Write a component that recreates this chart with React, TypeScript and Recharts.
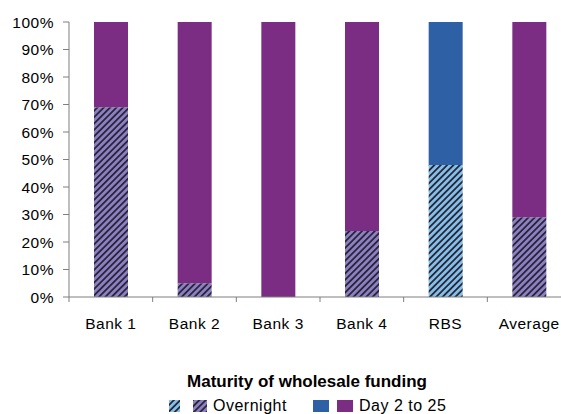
import React from "react";
import { BarChart, Bar, XAxis, YAxis, Cell } from "recharts";

const categories = ["Bank 1", "Bank 2", "Bank 3", "Bank 4", "RBS", "Average"];
const overnight = [69, 5, 0, 24, 48, 29];
const day2to25 = [31, 95, 100, 76, 52, 71];
const yTicks = [0, 10, 20, 30, 40, 50, 60, 70, 80, 90, 100];
const highlight = "RBS";

const title = "Maturity of wholesale funding";
const legendOvernight = "Overnight";
const legendDay = "Day 2 to 25";

const data = categories.map((name, i) => ({
  name,
  overnight: overnight[i],
  day: day2to25[i],
}));

const PURPLE = "#7A2D82";
const BLUE = "#2E60A6";
const LAVENDER = "#8C80C2";
const LIGHTBLUE = "#82C0E9";
const STRIPE = "#2A2638";
const AXIS = "#7f7f7f";
const FONT = "'Liberation Sans', Arial, sans-serif";

const Patterns = ({ prefix }: { prefix: string }) => (
  <defs>
    <pattern id={`${prefix}hatchPurple`} patternUnits="userSpaceOnUse" width="4.5" height="4.5" patternTransform="rotate(45)">
      <rect width="4.5" height="4.5" fill={LAVENDER} />
      <rect width="1.8" height="4.5" fill={STRIPE} />
    </pattern>
    <pattern id={`${prefix}hatchBlue`} patternUnits="userSpaceOnUse" width="4.5" height="4.5" patternTransform="rotate(45)">
      <rect width="4.5" height="4.5" fill={LIGHTBLUE} />
      <rect width="1.8" height="4.5" fill={STRIPE} />
    </pattern>
  </defs>
);

const XTick = (props: any) => {
  const { x, y, payload, index, visibleTicksCount } = props;
  const off = payload.offset || 0;
  const isLast = index === (visibleTicksCount ?? categories.length) - 1;
  return (
    <g>
      <line x1={x - off} x2={x - off} y1={y} y2={y + 5} stroke={AXIS} />
      {isLast && <line x1={x + off} x2={x + off} y1={y} y2={y + 5} stroke={AXIS} />}
      <text x={x} y={y + 32} textAnchor="middle" fontSize={15.5} letterSpacing={0.5} fill="#000" fontFamily={FONT}>
        {payload.value}
      </text>
    </g>
  );
};

export default function App() {
  return (
    <div
      style={{
        position: "absolute",
        left: 0,
        top: 0,
        width: 561,
        height: 414,
        overflow: "hidden",
        background: "#fff",
        fontFamily: FONT,
      }}
    >
      <BarChart
        width={600}
        height={414}
        data={data}
        margin={{ top: 22, right: 29, left: 0, bottom: 0 }}
      >
        <Patterns prefix="c" />
        <XAxis
          dataKey="name"
          height={117}
          tickLine={false}
          tickSize={0}
          tickMargin={0}
          axisLine={{ stroke: AXIS }}
          tick={<XTick />}
          interval={0}
        />
        <YAxis
          width={69}
          domain={[0, 100]}
          ticks={yTicks}
          interval={0}
          tickFormatter={(v: number) => `${v}%`}
          tickSize={6}
          tickMargin={9}
          axisLine={{ stroke: AXIS }}
          tickLine={{ stroke: AXIS }}
          tick={{ fontSize: 15.5, fill: "#000", fontFamily: FONT, letterSpacing: 0.5 }}
        />
        <Bar dataKey="overnight" stackId="a" barSize={34} isAnimationActive={false} fill="url(#chatchPurple)">
          {data.map((d) => (
            <Cell key={d.name} fill={d.name === highlight ? "url(#chatchBlue)" : "url(#chatchPurple)"} />
          ))}
        </Bar>
        <Bar dataKey="day" stackId="a" barSize={34} isAnimationActive={false} fill={PURPLE}>
          {data.map((d) => (
            <Cell key={d.name} fill={d.name === highlight ? BLUE : PURPLE} />
          ))}
        </Bar>
      </BarChart>

      <svg style={{ position: "absolute", left: 0, top: 0 }} width={561} height={414}>
        <Patterns prefix="l" />
        <text x={307} y={387} textAnchor="middle" fontSize={17} fontWeight="bold" fontFamily={FONT} fill="#000">
          {title}
        </text>
        <rect x={169} y={400} width={11} height={12} fill="url(#lhatchBlue)" />
        <rect x={193} y={400} width={14} height={12} fill="url(#lhatchPurple)" />
        <text x={213} y={410.5} fontSize={16} fontFamily={FONT} fill="#000" letterSpacing={0.5}>
          {legendOvernight}
        </text>
        <rect x={313} y={400} width={16} height={12} fill={BLUE} />
        <rect x={337} y={400} width={16} height={12} fill={PURPLE} />
        <text x={359} y={410.5} fontSize={16} fontFamily={FONT} fill="#000" letterSpacing={0.5}>
          {legendDay}
        </text>
      </svg>
    </div>
  );
}
